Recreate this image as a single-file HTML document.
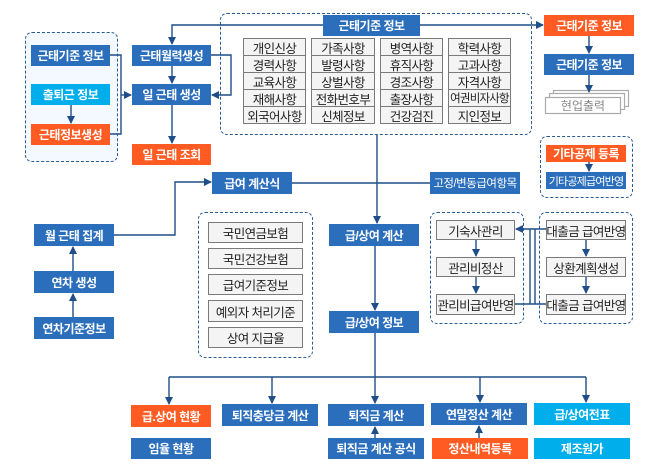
<!DOCTYPE html>
<html><head><meta charset="utf-8"><style>
body{margin:0;width:658px;height:473px;background:#fff;position:relative;overflow:hidden;font-family:"Liberation Sans","Noto Sans CJK KR",sans-serif;}
.b{position:absolute;color:#fff;font-size:12px;font-weight:bold;display:flex;align-items:center;justify-content:center;white-space:nowrap;letter-spacing:-0.5px}
.bl{background:#2a6ebc}.or{background:#ff5b22}.lb{background:#00aeeb}
.g{position:absolute;background:#f4f4f4;border:1px solid #7a7a7a;box-sizing:border-box;color:#222;font-size:12.5px;display:flex;align-items:center;justify-content:center;white-space:nowrap;letter-spacing:-0.6px}
.d{position:absolute;border:1.3px dashed #2b5a92;border-radius:7px;box-sizing:border-box}
svg{position:absolute;left:0;top:0}
</style></head><body>
<div class="d" style="left:25px;top:32px;width:93px;height:130px;background:#f3f9fe"></div>
<div class="d" style="left:220px;top:13px;width:312px;height:122px"></div>
<div class="d" style="left:540px;top:136px;width:93px;height:62px"></div>
<div class="d" style="left:198px;top:212px;width:115px;height:146px"></div>
<div class="d" style="left:430px;top:212px;width:94px;height:112px"></div>
<div class="d" style="left:539px;top:212px;width:94px;height:112px"></div>

<svg width="658" height="473" viewBox="0 0 658 473">
<defs><marker id="a" markerWidth="8" markerHeight="8" refX="7" refY="4" orient="auto" markerUnits="userSpaceOnUse"><path d="M0,0 L8,4 L0,8 Z" fill="#1f4e89"/></marker></defs>
<g fill="#fff" stroke="#aaa" stroke-width="1.2"><rect x="553.5" y="90.5" width="75" height="16"/><rect x="549.5" y="93.5" width="75" height="16"/><rect x="545.5" y="97.5" width="75" height="16"/></g>
<text x="583" y="110" font-size="12" fill="#888" text-anchor="middle" font-family="Liberation Sans, Noto Sans CJK KR, sans-serif">현업출력</text>
<g stroke="#1f4e89" stroke-width="1.4" fill="none">
<path d="M110,55 H121 V134 H110"/><path d="M121,95 H131" marker-end="url(#a)"/>
<path d="M71,105 V123" marker-end="url(#a)"/>
<path d="M211,55 H231 V95 H212" marker-end="url(#a)"/>
<path d="M172,66 V83" marker-end="url(#a)"/>
<path d="M172,105 V143" marker-end="url(#a)"/>
<path d="M323,25 H172 V44" marker-end="url(#a)"/>
<path d="M420,25 H543" marker-end="url(#a)"/>
<path d="M589,36 V53" marker-end="url(#a)"/>
<path d="M589,75 V92" marker-end="url(#a)"/>
<path d="M589,162 V171" marker-end="url(#a)"/>
<path d="M377,135 V223" marker-end="url(#a)"/>
<path d="M292,183 H430"/>
<path d="M114,235 H175 V182 H211" marker-end="url(#a)"/>
<path d="M73,271 V247" marker-end="url(#a)"/>
<path d="M73,317 V294" marker-end="url(#a)"/>
<path d="M375,246 V310" marker-end="url(#a)"/>
<path d="M476,240 V256" marker-end="url(#a)"/><path d="M476,277 V293" marker-end="url(#a)"/>
<path d="M586,240 V256" marker-end="url(#a)"/><path d="M586,277 V293" marker-end="url(#a)"/>
<path d="M515,304 H546"/><path d="M530,304 V229"/><path d="M535,304 V229"/>
<path d="M546,229 H516" marker-end="url(#a)"/>
<path d="M375,333 V403" marker-end="url(#a)"/>
<path d="M169,377 H586"/>
<path d="M169,377 V404" marker-end="url(#a)"/><path d="M272,377 V403" marker-end="url(#a)"/>
<path d="M480,377 V402" marker-end="url(#a)"/><path d="M586,377 V402" marker-end="url(#a)"/>
<path d="M375,438 V427" marker-end="url(#a)"/><path d="M479,438 V426" marker-end="url(#a)"/>
</g>
</svg>

<div class="b bl" style="left:31px;top:45px;width:79px;height:21px">근태기준 정보</div>
<div class="b lb" style="left:31px;top:84px;width:79px;height:21px">출퇴근 정보</div>
<div class="b or" style="left:31px;top:124px;width:79px;height:21px">근태정보생성</div>
<div class="b bl" style="left:132px;top:45px;width:79px;height:21px">근태월력생성</div>
<div class="b bl" style="left:132px;top:84px;width:79px;height:21px">일 근태 생성</div>
<div class="b or" style="left:132px;top:144px;width:79px;height:21px">일 근태 조회</div>
<div class="b bl" style="left:323px;top:15px;width:97px;height:21px">근태기준 정보</div>
<div class="b or" style="left:544px;top:15px;width:90px;height:21px">근태기준 정보</div>
<div class="b bl" style="left:544px;top:54px;width:90px;height:21px">근태기준 정보</div>
<div class="b or" style="left:546px;top:145px;width:80px;height:17px">기타공제 등록</div>
<div class="b bl" style="left:546px;top:172px;width:80px;height:17px;font-weight:normal;font-size:11px;letter-spacing:-0.8px">기타공제급여반영</div>

<div class="g" style="left:243px;top:38px;width:63px;height:18px">개인신상</div>
<div class="g" style="left:243px;top:55px;width:63px;height:18px">경력사항</div>
<div class="g" style="left:243px;top:72px;width:63px;height:18px">교육사항</div>
<div class="g" style="left:243px;top:89px;width:63px;height:18px">재해사항</div>
<div class="g" style="left:243px;top:106px;width:63px;height:18px">외국어사항</div>
<div class="g" style="left:311px;top:38px;width:64px;height:18px">가족사항</div>
<div class="g" style="left:311px;top:55px;width:64px;height:18px">발령사항</div>
<div class="g" style="left:311px;top:72px;width:64px;height:18px">상벌사항</div>
<div class="g" style="left:311px;top:89px;width:64px;height:18px">전화번호부</div>
<div class="g" style="left:311px;top:106px;width:64px;height:18px">신체정보</div>
<div class="g" style="left:380px;top:38px;width:63px;height:18px">병역사항</div>
<div class="g" style="left:380px;top:55px;width:63px;height:18px">휴직사항</div>
<div class="g" style="left:380px;top:72px;width:63px;height:18px">경조사항</div>
<div class="g" style="left:380px;top:89px;width:63px;height:18px">출장사항</div>
<div class="g" style="left:380px;top:106px;width:63px;height:18px">건강검진</div>
<div class="g" style="left:448px;top:38px;width:63px;height:18px">학력사항</div>
<div class="g" style="left:448px;top:55px;width:63px;height:18px">고과사항</div>
<div class="g" style="left:448px;top:72px;width:63px;height:18px">자격사항</div>
<div class="g" style="left:448px;top:89px;width:63px;height:18px;font-size:11.5px;letter-spacing:-0.8px">여권비자사항</div>
<div class="g" style="left:448px;top:106px;width:63px;height:18px">지인정보</div>

<div class="b bl" style="left:212px;top:172px;width:80px;height:22px">급여 계산식</div>
<div class="b bl" style="left:430px;top:172px;width:90px;height:22px;font-weight:normal;font-size:11.5px">고정/변동급여항목</div>
<div class="b bl" style="left:34px;top:224px;width:80px;height:22px">월 근태 집계</div>
<div class="b bl" style="left:34px;top:271px;width:80px;height:22px">연차 생성</div>
<div class="b bl" style="left:34px;top:317px;width:80px;height:22px">연차기준정보</div>

<div class="g" style="left:208px;top:222px;width:95px;height:21px">국민연금보험</div>
<div class="g" style="left:208px;top:248px;width:95px;height:21px">국민건강보험</div>
<div class="g" style="left:208px;top:274px;width:95px;height:21px">급여기준정보</div>
<div class="g" style="left:208px;top:300px;width:95px;height:22px">예외자 처리기준</div>
<div class="g" style="left:208px;top:327px;width:95px;height:21px">상여 지급율</div>

<div class="b bl" style="left:329px;top:224px;width:90px;height:22px">급/상여 계산</div>
<div class="b bl" style="left:329px;top:311px;width:90px;height:22px">급/상여 정보</div>

<div class="g" style="left:436px;top:220px;width:79px;height:20px">기숙사관리</div>
<div class="g" style="left:436px;top:257px;width:79px;height:20px">관리비정산</div>
<div class="g" style="left:436px;top:294px;width:79px;height:21px">관리비급여반영</div>
<div class="g" style="left:546px;top:220px;width:80px;height:20px">대출금 급여반영</div>
<div class="g" style="left:546px;top:257px;width:80px;height:20px">상환계획생성</div>
<div class="g" style="left:546px;top:294px;width:80px;height:21px">대출금 급여반영</div>

<div class="b or" style="left:131px;top:405px;width:80px;height:22px">급.상여 현황</div>
<div class="b bl" style="left:222px;top:404px;width:96px;height:22px">퇴직충당금 계산</div>
<div class="b bl" style="left:328px;top:404px;width:96px;height:22px">퇴직금 계산</div>
<div class="b bl" style="left:431px;top:403px;width:96px;height:22px">연말정산 계산</div>
<div class="b lb" style="left:534px;top:403px;width:96px;height:22px">급/상여전표</div>
<div class="b bl" style="left:131px;top:438px;width:80px;height:21px">임율 현황</div>
<div class="b bl" style="left:328px;top:438px;width:96px;height:21px">퇴직금 계산 공식</div>
<div class="b or" style="left:432px;top:438px;width:96px;height:21px">정산내역등록</div>
<div class="b lb" style="left:534px;top:438px;width:96px;height:21px">제조원가</div>
</body></html>
